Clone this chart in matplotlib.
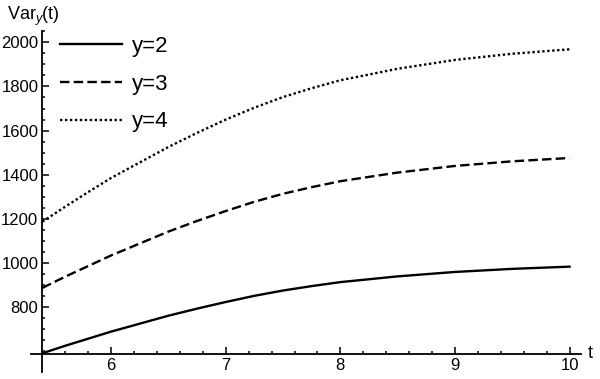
import matplotlib.pyplot as plt
import numpy as np
from matplotlib.ticker import MultipleLocator, FixedLocator

# #############################################################################
# Datos (Var_y(t) para y=2, 3, 4)

t = [5.4, 5.6, 5.8, 6.0, 6.25, 6.5, 6.75, 7.0, 7.25, 7.5, 7.75, 8.0,
     8.5, 9.0, 9.5, 10.0]
var_y2 = [592, 626, 658, 690, 726, 762, 794, 824, 852, 876, 896, 914,
          940, 960, 974, 984]
var_y3 = [888, 939, 987, 1035, 1089, 1143, 1191, 1236, 1278, 1314, 1344,
          1371, 1410, 1440, 1461, 1476]
var_y4 = [1188, 1256, 1322, 1386, 1456, 1526, 1590, 1650, 1704, 1752,
          1792, 1828, 1880, 1920, 1948, 1968]
etiquetas = ['y=2', 'y=3', 'y=4']
xticks = [6, 7, 8, 9, 10]
yticks = [800, 1000, 1200, 1400, 1600, 1800, 2000]

plt.rcParams['font.family'] = ['Liberation Sans', 'DejaVu Sans']
plt.rcParams['mathtext.fontset'] = 'custom'
plt.rcParams['mathtext.it'] = 'Liberation Sans:italic'
plt.rcParams['mathtext.rm'] = 'Liberation Sans'

fig = plt.figure(figsize=(6, 3.79), dpi=100)
ax = fig.add_axes([31 / 600, 7 / 379, 550 / 600, 341 / 379])

lw = 1.7
ax.plot(t, var_y2, color='black', lw=lw, label=etiquetas[0])
ax.plot(t, var_y3, color='black', lw=lw, ls=(0, (4.0, 1.8)),
        dash_capstyle='butt', label=etiquetas[1])
ax.plot(t, var_y4, color='black', lw=lw, ls=(0, (1.0, 1.1)),
        dash_capstyle='butt', label=etiquetas[2])

# Ejes estilo Mathematica (cruzados en el origen del grafico)
ax.set_xlim(5.3, 10.1)
ax.set_ylim(507, 2051)
ax.spines['left'].set_position(('data', 5.4))
ax.spines['bottom'].set_position(('data', 590))
ax.spines['right'].set_visible(False)
ax.spines['top'].set_visible(False)
for s in ['left', 'bottom']:
    ax.spines[s].set_linewidth(1.3)

ax.xaxis.set_major_locator(FixedLocator(xticks))
ax.xaxis.set_minor_locator(MultipleLocator(0.2))
ax.yaxis.set_major_locator(FixedLocator(yticks))
ax.yaxis.set_minor_locator(FixedLocator(np.arange(600, 2051, 50)))
ax.tick_params(which='both', direction='in', width=1.1, labelsize=12)
ax.tick_params(which='major', length=5, pad=3)
ax.tick_params(which='minor', length=2.5)

ax.text(10.18, 590, 't', fontsize=13, ha='center', va='center')
fig.text(7 / 600, 1 - 16 / 379, r'Var$_{\mathit{y}}$(t)', fontsize=13,
         ha='left', va='center')

ax.legend(loc='upper left', bbox_to_anchor=(60 / 600, 1 - 36 / 379),
          bbox_transform=fig.transFigure, frameon=False, fontsize=16,
          handlelength=2.8, handletextpad=0.45, labelspacing=0.75,
          borderpad=0, borderaxespad=0)

plt.savefig('out.png', dpi=100)
